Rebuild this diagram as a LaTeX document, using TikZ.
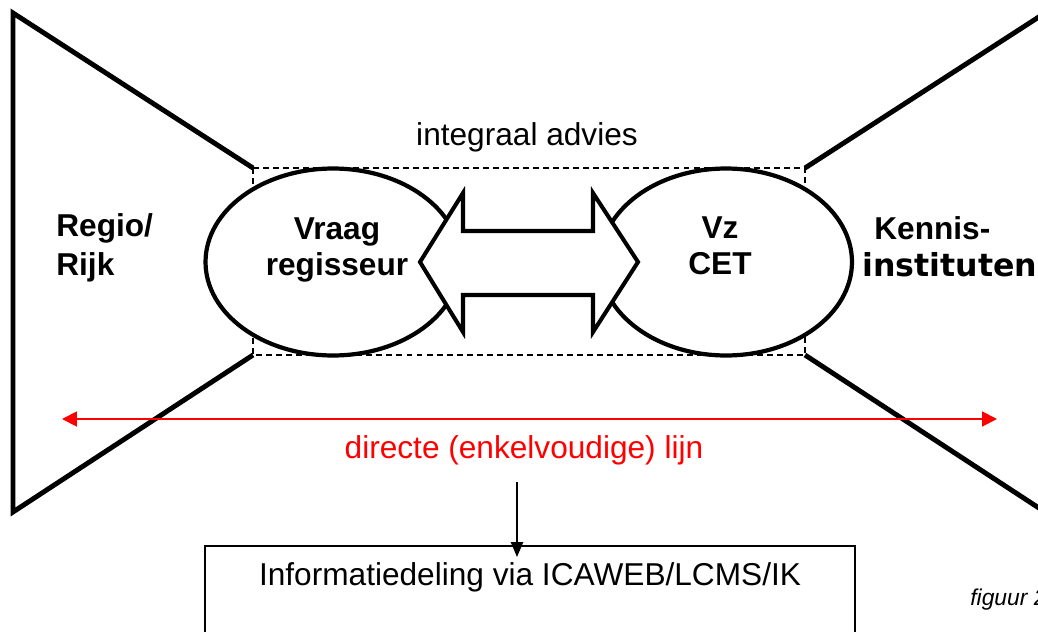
\documentclass[tikz,border=0pt]{standalone}
\usepackage{fontspec}
\setmainfont{Liberation Sans}
\newfontfamily\kennisfont{DejaVu Sans}
\usetikzlibrary{arrows.meta, shapes.geometric}

\begin{document}
\begin{tikzpicture}[x=0.02cm, y=-0.02cm,
  wing/.style={line width=2.8pt},
  bubble/.style={ellipse, draw, line width=2.4pt, fill=white, minimum width=5.1cm, minimum height=3.74cm, inner sep=0pt},
  lbl/.style={font=\fontsize{18}{22}\selectfont, inner sep=0pt},
  bold/.style={font=\fontsize{18}{20.5}\selectfont\bfseries, inner sep=0pt, align=center}]
  \useasboundingbox (0,0) rectangle (1038,632);
  \clip (0,0) rectangle (1038,632);

  % funnels left and right
  \draw[wing] (253,168) -- (13,13) -- (13,512) -- (253,355);
  \draw[wing] (805,168) -- (1045,13) -- (1045,512) -- (805,355);
  \draw[dash pattern=on 3.4pt off 2.3pt, line width=0.85pt] (253,168) rectangle (805,355);

  \node[bubble] (vraag) at (333,262) {};
  \node[bubble, minimum width=5.04cm] (vz) at (726,262) {};
  \draw[line width=2.3pt, fill=white] (420,262) -- (463,193) -- (463,231) -- (593,231) -- (593,193) -- (638,262)
    -- (593,332) -- (593,295) -- (463,295) -- (463,332) -- cycle;

  \node[bold] (vraagtxt) at (337,250) {Vraag\\regisseur};
  \node[bold] (vztxt) at (720,246) {Vz\\CET};
  \node[bold, font=\fontsize{18}{22}\selectfont\bfseries, align=left, anchor=west] (regio) at (56,248) {Regio/\\Rijk};
  \node[bold, anchor=base west] (kennis) at (874,239) {Kennis-};
  \node[font=\fontsize{18}{22}\selectfont\kennisfont\bfseries, inner sep=0pt, anchor=base west] (instituten) at (862,276) {instituten};

  \node[lbl, anchor=base] (advies) at (527,145) {integraal advies};

  % direct line
  \coordinate (lft) at (62,419);
  \coordinate (rgt) at (997,419);
  \draw[red, line width=1.1pt, {Triangle[length=8.5pt,width=8.5pt]}-{Triangle[length=8.5pt,width=8.5pt]}] (lft) -- (rgt);
  \node[lbl, red, anchor=base] (lijn) at (524,458) {directe (enkelvoudige) lijn};

  \node[draw, line width=1.1pt, minimum width=13cm, minimum height=2.2cm, anchor=north] (info) at (530,545) {};
  \node[lbl, anchor=base] (infotxt) at (530,585) {Informatiedeling via ICAWEB/LCMS/IK};
  \coordinate (drop) at (517,482);
  \draw[-{Triangle[length=8.5pt,width=7pt]}, line width=0.85pt] (drop) -- ([yshift=-0.24cm]drop |- info.north);

  \node[font=\fontsize{13}{15}\selectfont\itshape, anchor=base west, inner sep=0pt] (fig) at (970,605) {figuur 2};
\end{tikzpicture}
\end{document}
